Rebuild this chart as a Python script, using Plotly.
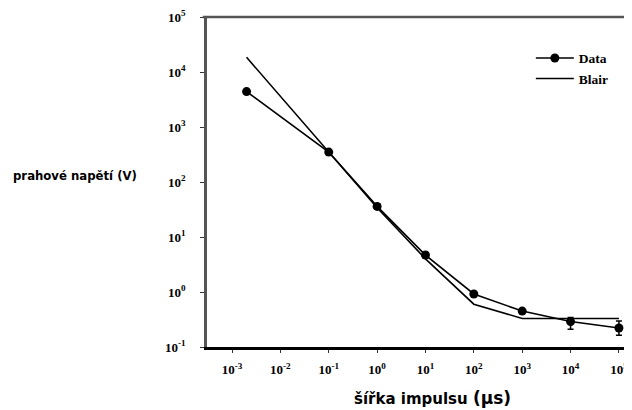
import plotly.graph_objects as go

# pulse width (µs)
pulse_width = [0.002, 0.1, 1, 10, 100, 1000, 10000, 100000]
# measured threshold voltage (V)
data_v = [4400, 350, 36, 4.7, 0.92, 0.45, 0.29, 0.222]
data_err_plus = [0, 0, 0, 0, 0, 0, 0.055, 0.075]
data_err_minus = [0, 0, 0, 0, 0, 0, 0.08, 0.058]
# Blair model
blair_v = [18500, 360, 34, 4.0, 0.6, 0.33, 0.33, 0.33]

x_tickvals = [1e-3, 1e-2, 1e-1, 1, 10, 100, 1000, 10000, 100000]
x_ticktext = ["10<sup>-3</sup>", "10<sup>-2</sup>", "10<sup>-1</sup>", "10<sup>0</sup>",
              "10<sup>1</sup>", "10<sup>2</sup>", "10<sup>3</sup>", "10<sup>4</sup>", "10<sup>5</sup>"]
y_tickvals = [0.1, 1, 10, 100, 1000, 10000, 100000]
y_ticktext = ["10<sup>-1</sup>", "10<sup>0</sup>", "10<sup>1</sup>", "10<sup>2</sup>",
              "10<sup>3</sup>", "10<sup>4</sup>", "10<sup>5</sup>"]

serif = "Liberation Serif"
sans = "DejaVu Sans"

# page body has an 8px margin, so the figure is drawn from (8, 8)
L, T, PW, PH = 199, 7, 425, 332

fig = go.Figure()
fig.add_trace(go.Scatter(
    x=pulse_width, y=data_v, name="Data", mode="lines+markers",
    line=dict(color="black", width=1.6),
    marker=dict(color="black", size=9, symbol="circle"),
    error_y=dict(type="data", symmetric=False, array=data_err_plus,
                 arrayminus=data_err_minus, color="black", thickness=1.5, width=3),
))
fig.add_trace(go.Scatter(
    x=pulse_width, y=blair_v, name="Blair", mode="lines",
    line=dict(color="black", width=1.6),
))

fig.update_layout(
    width=624, height=402,
    margin=dict(l=L, r=0, t=T, b=402 - T - PH),
    paper_bgcolor="white", plot_bgcolor="white",
    showlegend=True,
    legend=dict(x=0.762, y=0.922, xanchor="left", yanchor="top",
                font=dict(family=serif, size=13.5, color="black", weight="bold"),
                bgcolor="rgba(0,0,0,0)", itemwidth=38, tracegroupgap=0),
    font=dict(family=serif, color="black"),
)
fig.update_xaxes(
    type="log", range=[-3.517, 5.27],
    tickvals=x_tickvals, ticktext=x_ticktext,
    tickfont=dict(family=serif, size=13, color="black", weight="bold"),
    ticks="outside", ticklen=3, tickwidth=1, tickcolor="#333",
    ticklabelstandoff=6, ticklabeloverflow="allow",
    showline=True, linecolor="black", linewidth=2.5,
    showgrid=False, zeroline=False,
)
fig.update_yaxes(
    type="log", range=[-1, 5],
    tickvals=y_tickvals, ticktext=y_ticktext,
    tickfont=dict(family=serif, size=13, color="black", weight="bold"),
    ticks="outside", ticklen=4, tickwidth=1, tickcolor="#333",
    ticklabelstandoff=12, ticklabeloverflow="allow",
    showline=True, linecolor="#555", linewidth=2.5,
    showgrid=False, zeroline=False,
)
# top border line
fig.add_shape(type="line", xref="paper", yref="paper", x0=-0.01, x1=1, y0=1, y1=1,
              line=dict(color="#555", width=2.5))
# horizontal y-axis title
fig.add_annotation(text="prahové napětí (V)", xref="paper", yref="paper",
                   x=-(L - 3) / PW, y=1 - (175 - 15) / PH, xanchor="left", yanchor="middle",
                   showarrow=False,
                   font=dict(family=sans, size=11.7, color="black", weight="bold"))
# x-axis title
fig.add_annotation(text="šířka impulsu <span style='font-size:17px'>(µs)</span>",
                   xref="paper", yref="paper",
                   x=(432 - 207) / PW, y=-(398 - 347) / PH, xanchor="center", yanchor="middle",
                   showarrow=False,
                   font=dict(family=sans, size=15, color="black", weight="bold"))

fig.write_html("out.html")
